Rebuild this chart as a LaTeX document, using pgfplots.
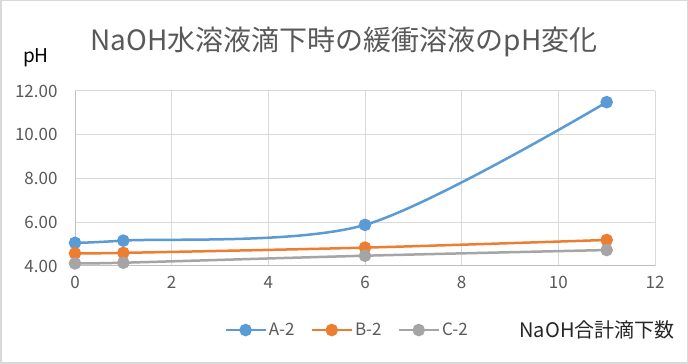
\documentclass[border=0pt]{standalone}
\usepackage{fontspec}
\setmainfont{Noto Sans CJK JP}
\usepackage{pgfplots}
\pgfplotsset{compat=1.18}
\definecolor{cA}{HTML}{5B9BD5}
\definecolor{cB}{HTML}{ED7D31}
\definecolor{cC}{HTML}{A5A5A5}
\definecolor{txt}{HTML}{595959}
\definecolor{gridc}{HTML}{D9D9D9}
\definecolor{axc}{HTML}{BFBFBF}
\definecolor{framec}{HTML}{D9D9D9}
\begin{document}
\begin{tikzpicture}[x=1pt,y=1pt]
\useasboundingbox (0,0) rectangle (688,364);
\fill[white] (0,0) rectangle (688,364);
\draw[color=framec,line width=1.5pt] (0.75,0.75) rectangle (687.25,363.25);
\node[text=txt,font=\fontsize{28}{32}\selectfont] at (344,322) {NaOH水溶液滴下時の緩衝溶液のpH変化};
\node[text=black,font=\fontsize{19}{22}\selectfont] at (36,306) {pH};
\node[text=black!85,font=\fontsize{20}{24}\selectfont] at (597,34) {NaOH合計滴下数};
\begin{axis}[
  at={(75pt,98pt)}, anchor=south west, scale only axis,
  width=580pt, height=175pt,
  xmin=0, xmax=12, ymin=4, ymax=12,
  xtick={0,2,...,12}, ytick={4,6,...,12},
  grid=major, grid style={gridc, line width=1pt},
  axis line style={axc, line width=1pt},
  axis x line*=bottom, axis y line*=left,
  major tick length=0pt,
  tick label style={text=txt, font=\fontsize{17}{19}\selectfont},
  /pgf/number format/assume math mode=true,
  yticklabel style={/pgf/number format/fixed,/pgf/number format/fixed zerofill,/pgf/number format/precision=2, xshift=-14pt},
  xticklabel style={yshift=-7pt},
  legend columns=3,
  legend style={draw=none, fill=none, at={(0.469,-0.366)}, anchor=center,
    font=\fontsize{17}{19}\selectfont, text=txt,
    /tikz/every even column/.append style={column sep=14pt}},
  legend image code/.code={\draw[mark repeat=2,mark phase=2] plot coordinates {(0pt,0pt) (20pt,0pt) (40pt,0pt)};},
  every axis plot/.append style={line width=2.5pt, mark=*, mark size=5pt, smooth},
]
\addplot[cA, mark options={fill=cA}] coordinates {(0,5.06) (1,5.16) (6,5.88) (11,11.49)};
\addlegendentry{A-2}
\addplot[cB, mark options={fill=cB}] coordinates {(0,4.58) (1,4.60) (6,4.84) (11,5.19)};
\addlegendentry{B-2}
\addplot[cC, mark options={fill=cC}] coordinates {(0,4.12) (1,4.15) (6,4.47) (11,4.73)};
\addlegendentry{C-2}
\end{axis}
\end{tikzpicture}
\end{document}
